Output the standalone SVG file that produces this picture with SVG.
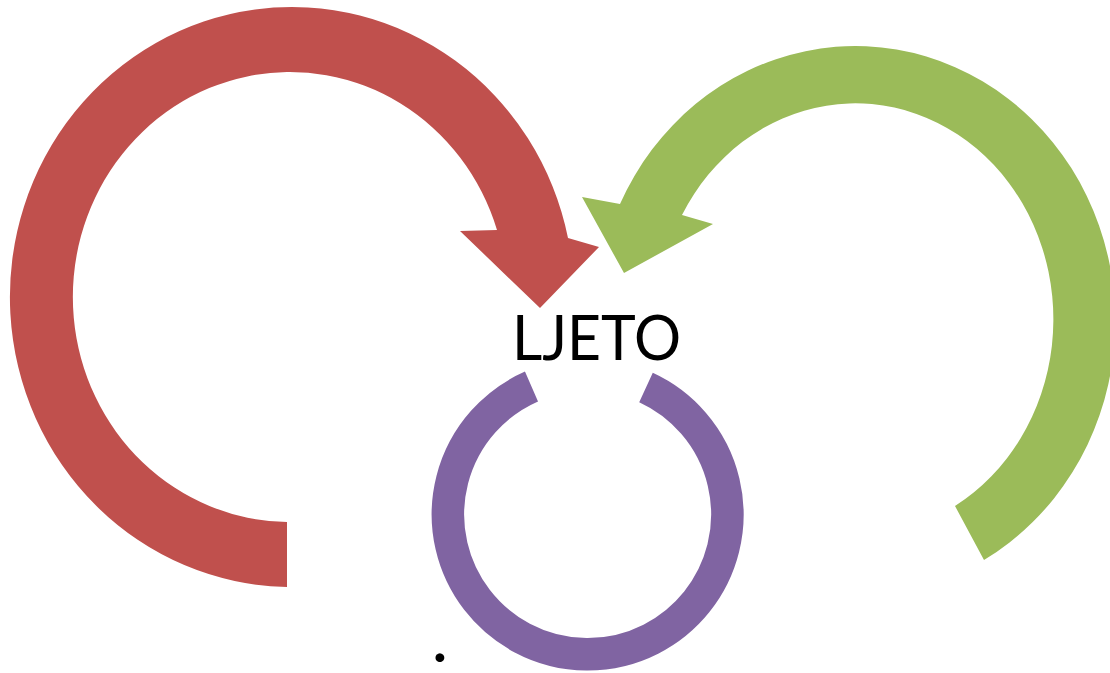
<svg xmlns="http://www.w3.org/2000/svg" width="1110" height="673" viewBox="0 0 1110 673">
  <style>
    .lbl { font-family: Lato, "Open Sans", "Liberation Sans", sans-serif; fill: #000000; }
    .red { fill: #C0504D; }
    .green { fill: #9BBB59; }
    .purple { fill: none; stroke: #8064A2; stroke-width: 32.5; stroke-linecap: butt; }
  </style>
  <rect x="0" y="0" width="1110" height="673" fill="#FFFFFF"/>
  <g id="connectors">
    <path id="arrow-red" class="red" d="M 287 587 A 282 290 0 1 1 568 238 L 599 247 L 540 308 L 460 231 L 497 230 A 217 225 0 1 0 287 522 Z"/>
    <path id="arrow-green" class="green" d="M 984 560 A 260 275 0 1 0 620 204 L 582 197 L 624 273 L 713 224 L 682 215 A 198 216 0 1 1 955 506 Z"/>
    <path id="ring-purple" class="purple" d="M 531.5 386.5 A 139.75 139.75 0 1 0 646 387.5"/>
  </g>
  <g id="node-ljeto">
    <text class="lbl" x="512" y="360" font-size="61" textLength="169" lengthAdjust="spacingAndGlyphs">LJETO</text>
  </g>
  <g id="node-dot">
    <text class="lbl" x="433" y="662" font-size="58" font-weight="bold">.</text>
  </g>
</svg>
